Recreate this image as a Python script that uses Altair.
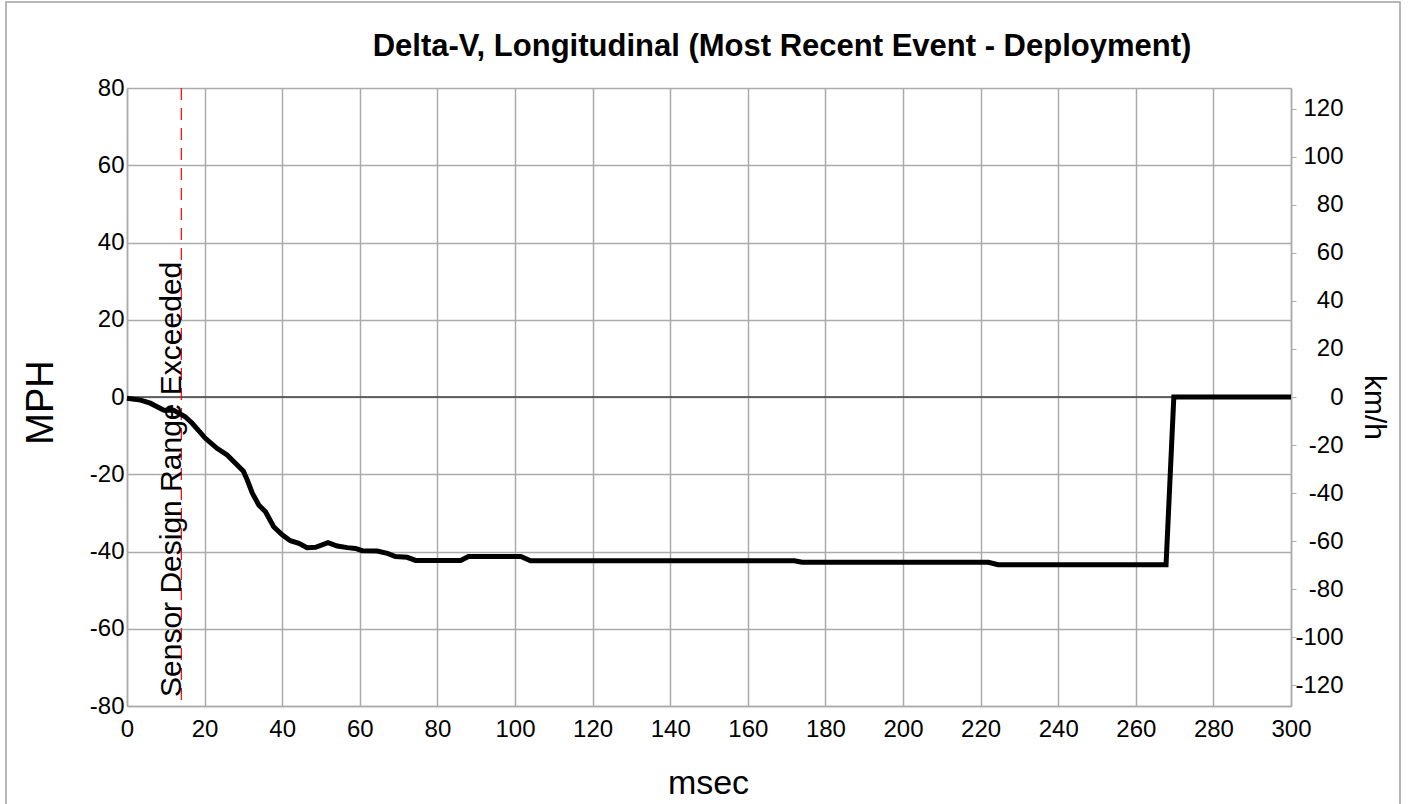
import altair as alt
import pandas as pd

# Delta-V trace (longitudinal), read at the breakpoints of the curve
msec = [0, 3.5, 6, 9.5, 12, 15, 16.8, 20.2, 23.2, 25.8, 28.4, 30, 31, 32.3, 34,
        35.7, 37.8, 40, 42.1, 44.3, 46.4, 48.6, 51.8, 54.2, 56.8, 58.9, 60.6,
        64.5, 67.1, 69.2, 72.2, 74.4, 86, 88, 101.5, 104, 172, 174, 222, 224.5,
        267.8, 269.8, 300]
mph = [-0.3, -0.8, -1.6, -3.4, -3.4, -5.1, -6.8, -10.7, -13.3, -15, -17.6, -19.2,
       -21.5, -24.9, -28, -29.7, -33.6, -35.7, -37.2, -37.9, -39, -38.9, -37.7,
       -38.6, -39, -39.2, -39.8, -39.9, -40.5, -41.3, -41.5, -42.3, -42.3, -41.3,
       -41.3, -42.4, -42.4, -42.8, -42.8, -43.4, -43.4, 0, 0]

x_ticks = list(range(0, 301, 20))
mph_ticks = list(range(-80, 81, 20))
kmh_ticks = list(range(-120, 121, 20))

event_msec = [14]
event_label = ["Sensor Design Range Exceeded"]
chart_title = ["Delta-V, Longitudinal (Most Recent Event - Deployment)"]

KMH_PER_MPH = 1.609344
FONT = "Liberation Sans"
GRID = "#ababab"
W, H = 1164, 618
PLAIN_LABEL = "'' + datum.value"  # hyphen-minus instead of the typographic minus

df = pd.DataFrame({"msec": msec, "mph": mph})
df["kmh"] = df["mph"] * KMH_PER_MPH
events = pd.DataFrame({"msec": event_msec, "label": event_label})
zero = pd.DataFrame({"mph": [0]})
one = pd.DataFrame({"k": [0]})
heading = pd.DataFrame({"title": chart_title})

x_scale = alt.Scale(domain=[0, 300], nice=False, zero=False)
mph_scale = alt.Scale(domain=[-80, 80], nice=False)
kmh_scale = alt.Scale(domain=[-80 * KMH_PER_MPH, 80 * KMH_PER_MPH], nice=False)

x_axis = alt.Axis(values=x_ticks, title="msec", grid=True, gridColor=GRID,
                  gridWidth=1.5, ticks=False, domainColor=GRID, domainWidth=1.5,
                  labelFontSize=24, labelPadding=11, labelFont=FONT, labelFlush=False,
                  labelExpr=PLAIN_LABEL,
                  titleFont=FONT, titleFontSize=34, titleFontWeight="normal",
                  titleX=581, titleY=77, titleBaseline="middle")
mph_axis = alt.Axis(values=mph_ticks, title="MPH", grid=True, gridColor=GRID,
                    gridWidth=1.5, ticks=False, domainColor=GRID, domainWidth=1.5,
                    labelFontSize=24, labelPadding=3, labelFont=FONT,
                    labelExpr=PLAIN_LABEL,
                    titleFont=FONT, titleFontSize=38, titleFontWeight="normal",
                    titleX=-86, titleY=314, titleAngle=270, titleBaseline="middle")
kmh_axis = alt.Axis(orient="right", values=kmh_ticks, title="km/h", grid=False,
                    ticks=True, tickSize=5, tickColor=GRID, domainColor=GRID,
                    domainWidth=1.5, labelAlign="right", labelPadding=47,
                    labelFontSize=24, labelFont=FONT, labelExpr=PLAIN_LABEL,
                    titleFont=FONT, titleFontSize=30, titleFontWeight="normal",
                    titleX=82, titleY=319, titleAngle=90, titleBaseline="middle")

# outer frame around the whole figure
frame = alt.Chart(one).mark_rect(fillOpacity=0, stroke="#a0a0a0", strokeWidth=1.5).encode(
    x=alt.value(-121), x2=alt.value(1273), y=alt.value(-86), y2=alt.value(740)
)

# chart heading, centred over the traces' area
title_text = alt.Chart(heading).mark_text(
    font=FONT, fontSize=31, fontWeight="bold", color="black",
    align="center", baseline="middle",
).encode(x=alt.value(655), y=alt.value(-41), text="title:N")

zero_line = alt.Chart(zero).mark_rule(color="#404040", strokeWidth=1.5).encode(
    y=alt.Y("mph:Q", scale=mph_scale, axis=mph_axis)
)

event_rule = alt.Chart(events).mark_rule(color="#ff0000", strokeWidth=1.2,
                                         strokeDash=[12, 8]).encode(
    x=alt.X("msec:Q", scale=x_scale, axis=x_axis)
)

event_text = alt.Chart(events).mark_text(angle=270, align="left", baseline="alphabetic",
                                         fontSize=30, font=FONT, color="black").encode(
    x=alt.X("msec:Q", scale=x_scale),
    y=alt.value(609),
    text="label:N",
)

trace = alt.Chart(df).mark_line(color="black", strokeWidth=5).encode(
    x=alt.X("msec:Q", scale=x_scale, axis=x_axis),
    y=alt.Y("mph:Q", scale=mph_scale, axis=mph_axis),
)

left = alt.layer(frame, title_text, zero_line, event_rule, event_text, trace)

right = alt.Chart(df).mark_line(opacity=0).encode(
    x=alt.X("msec:Q", scale=x_scale, axis=x_axis),
    y=alt.Y("kmh:Q", scale=kmh_scale, axis=kmh_axis),
)

chart = alt.layer(left, right).resolve_scale(y="independent").properties(
    width=W,
    height=H,
    autosize=alt.AutoSizeParams(type="none"),
    padding={"left": 127, "top": 88, "right": 119, "bottom": 98},
).configure_view(stroke=GRID, strokeWidth=1.5).configure(background="white")

chart.save("out.html", embed_options={"renderer": "svg", "actions": False})
